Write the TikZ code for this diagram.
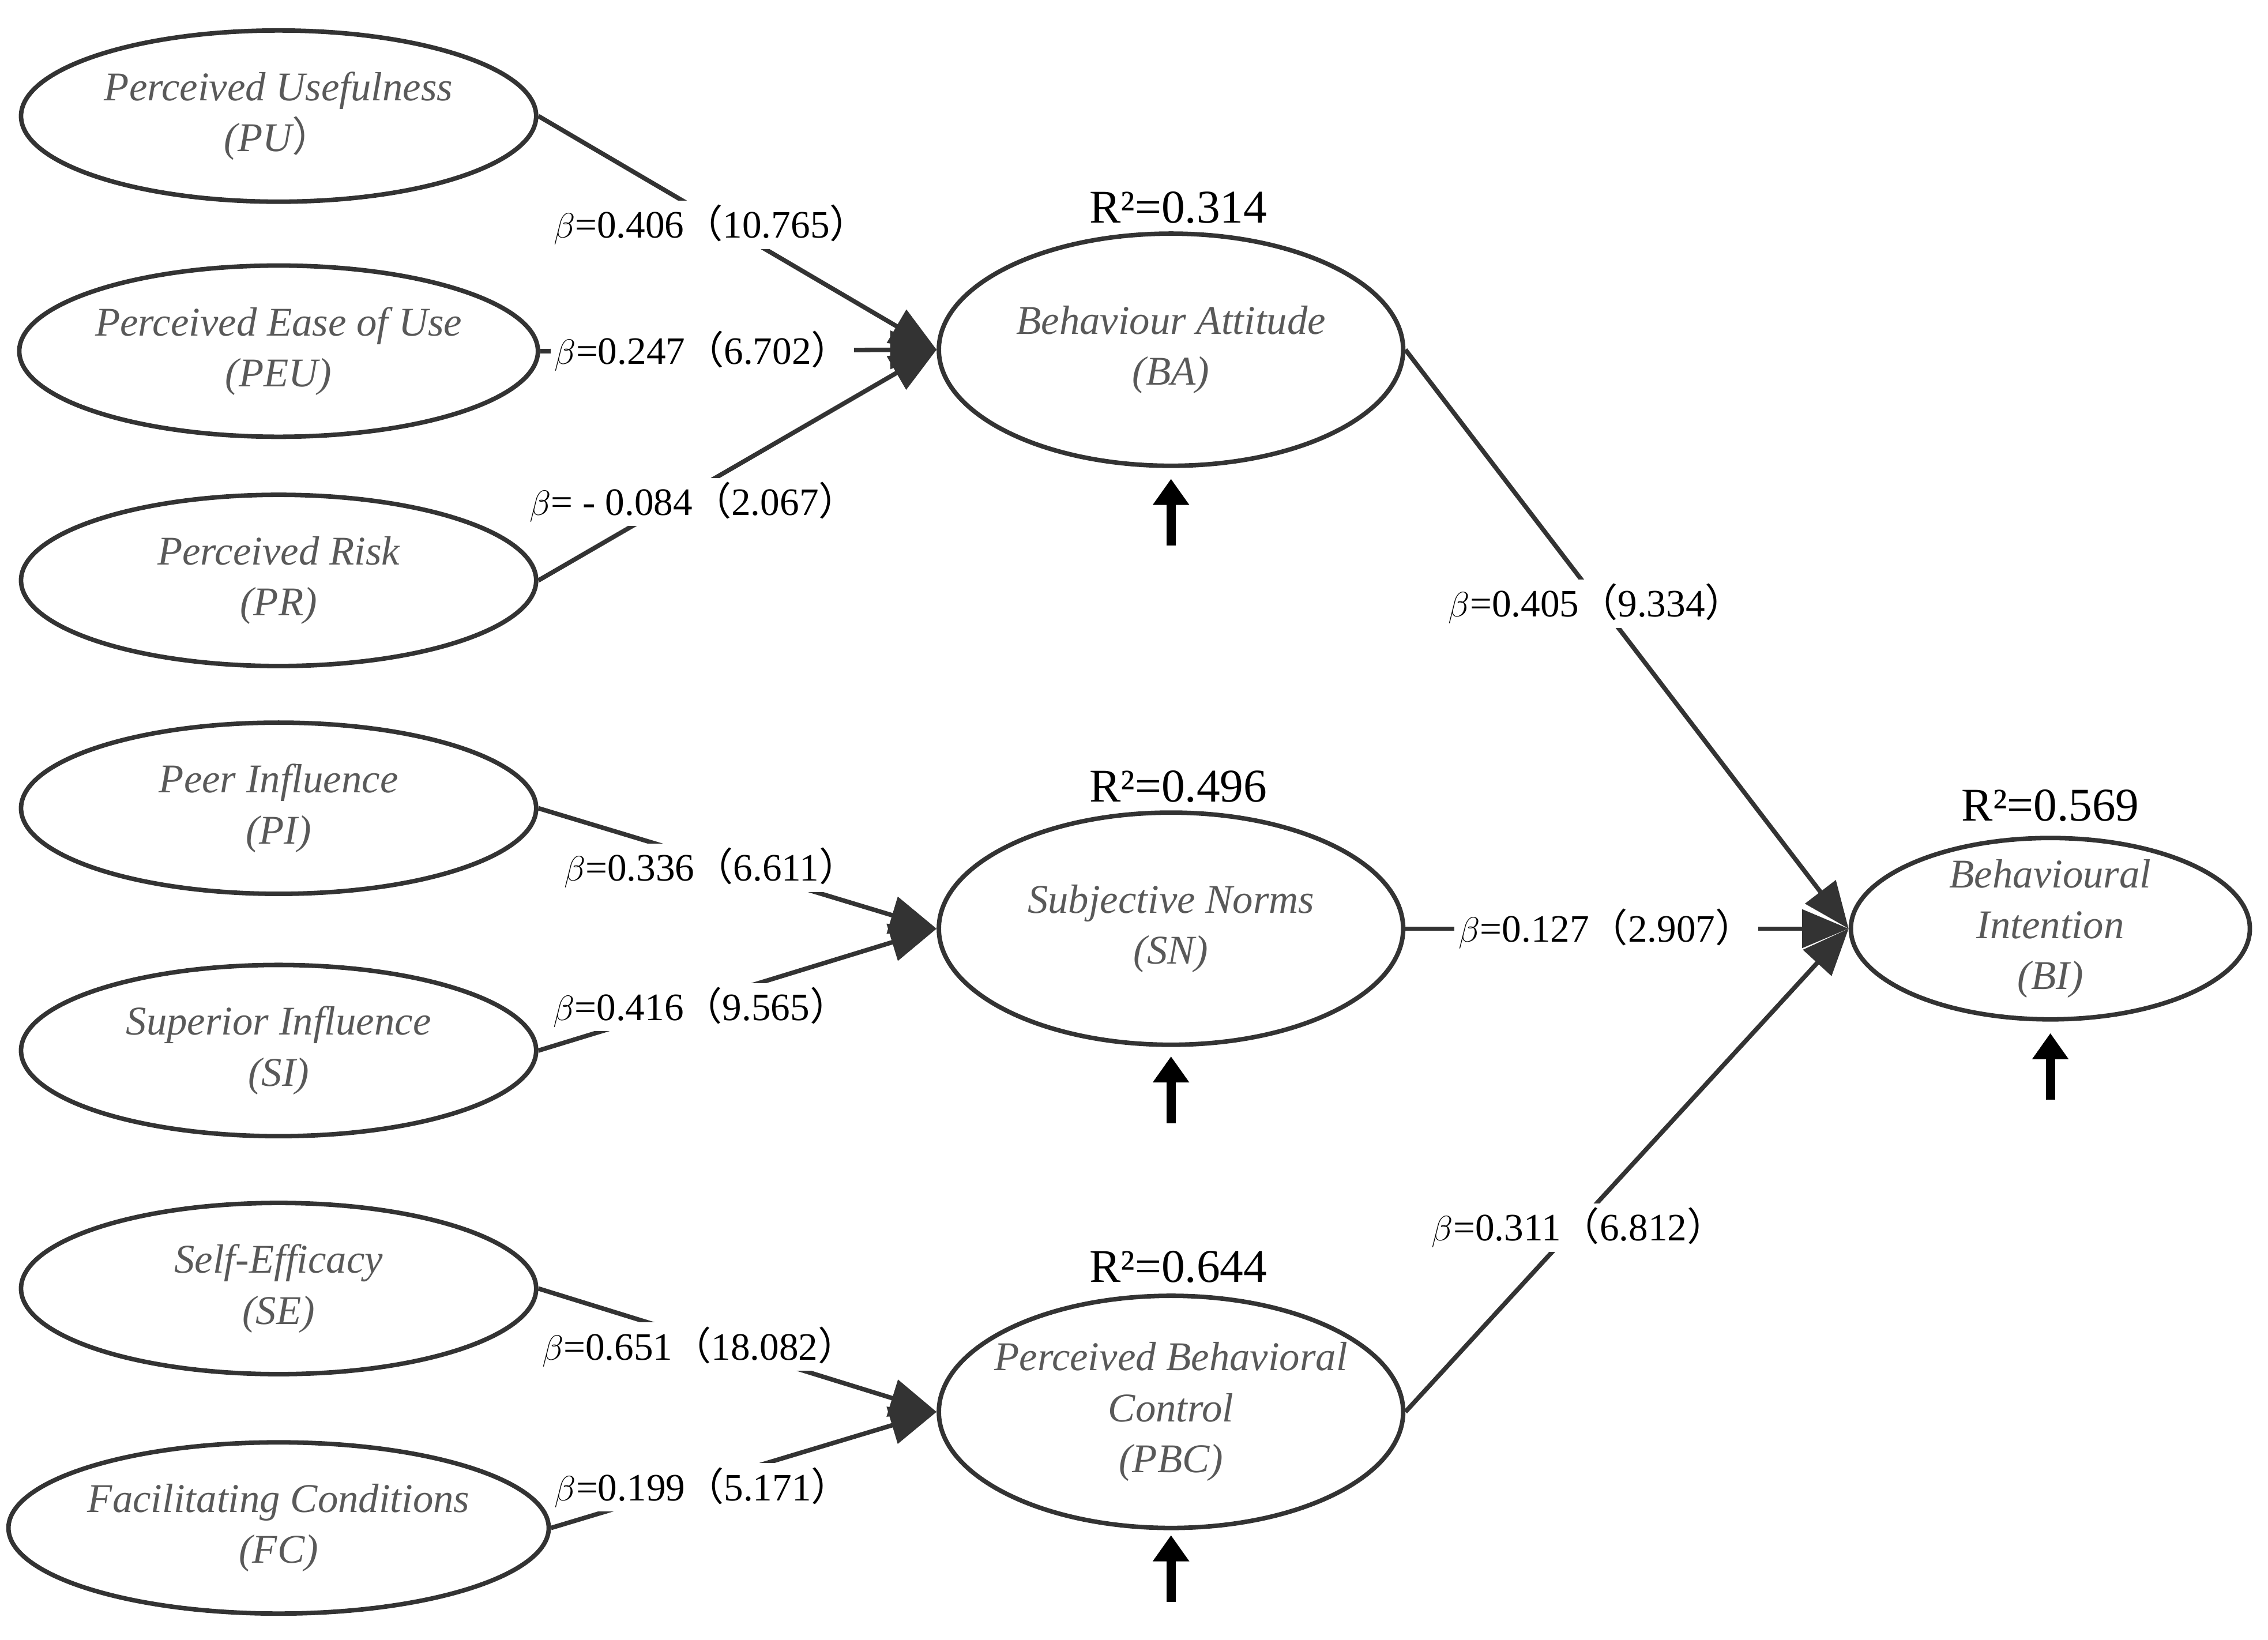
\documentclass[tikz,border=0pt]{standalone}
\usepackage{fontspec}
\setmainfont{Liberation Serif}
\newfontfamily\cjk{Noto Sans CJK SC}
\newcommand{\lp}{{\cjk （}}
\newcommand{\rp}{{\cjk ）}}
\usetikzlibrary{arrows.meta,shapes.geometric}
\begin{document}
\begin{tikzpicture}[x=0.025cm,y=-0.025cm,
 src/.style={ellipse,draw=black!80,line width=2.2pt,minimum width=355*0.025cm,minimum height=118*0.025cm,inner sep=0pt,align=center,font=\fontsize{20}{25}\selectfont\itshape,text=black!65},
 mid/.style={src,minimum width=320*0.025cm,minimum height=160*0.025cm},
 lab/.style={fill=white,inner sep=2pt,font=\fontsize{19}{22}\selectfont},
 rsq/.style={font=\fontsize{23}{26}\selectfont},
 ln/.style={draw=black!80,line width=2.2pt,-{Triangle[length=0.8cm,width=0.65cm]}},
 up/.style={line width=4.5pt,-{Triangle[length=0.45cm,width=0.6cm]}}]
\useasboundingbox (0,0) rectangle (1563,1130);
\node[src] (PU) at (192,80) {Perceived Usefulness\\(PU\rp};
\node[src] (PEU) at (192,242) {Perceived Ease of Use\\(PEU)};
\node[src] (PR) at (192,400) {Perceived Risk\\(PR)};
\node[src] (PI) at (192,557) {Peer Influence\\(PI)};
\node[src] (SI) at (192,724) {Superior Influence\\(SI)};
\node[src] (SE) at (192,888) {Self-Efficacy\\(SE)};
\node[src] (FC) at (192,1053) {Facilitating Conditions\\(FC)};
\node[mid] (BA) at (807,241) {Behaviour Attitude\\(BA)};
\node[mid] (SN) at (807,640) {Subjective Norms\\(SN)};
\node[mid,inner xsep=-12pt,inner ysep=-6pt] (PBC) at (807,973) {Perceived Behavioral\\Control\\(PBC)};
\node[mid,minimum width=275*0.025cm,minimum height=125*0.025cm,inner xsep=-6pt,inner ysep=-6pt] (BI) at (1413,640) {Behavioural\\Intention\\(BI)};
\draw[ln] (PU.east) -- (BA.west);
\draw[ln] (PEU.east) -- (BA.west);
\draw[ln] (PR.east) -- (BA.west);
\draw[ln] (PI.east) -- (SN.west);
\draw[ln] (SI.east) -- (SN.west);
\draw[ln] (SE.east) -- (PBC.west);
\draw[ln] (FC.east) -- (PBC.west);
\draw[ln] (BA.east) -- (BI.west);
\draw[ln] (SN.east) -- (BI.west);
\draw[ln] (PBC.east) -- (BI.west);
\node[lab] (l1) at (490,155) {$\beta$=0.406\lp10.765\rp};
\node[lab] (l2) at (484,242) {$\beta$=0.247\lp6.702\rp};
\node[lab] (l3) at (478,346) {$\beta$= - 0.084\lp2.067\rp};
\node[lab] (l4) at (1100,416) {$\beta$=0.405\lp9.334\rp};
\node[lab] (l5) at (490,598) {$\beta$=0.336\lp6.611\rp};
\node[lab] (l6) at (483,694) {$\beta$=0.416\lp9.565\rp};
\node[lab] (l7) at (1107,640) {$\beta$=0.127\lp2.907\rp};
\node[lab] (l8) at (482,928) {$\beta$=0.651\lp18.082\rp};
\node[lab] (l9) at (484,1025) {$\beta$=0.199\lp5.171\rp};
\node[lab] (l10) at (1088,846) {$\beta$=0.311\lp6.812\rp};
\node[rsq] (r1) at (812,143) {R²=0.314};
\node[rsq] (r2) at (812,542) {R²=0.496};
\node[rsq] (r3) at (812,873) {R²=0.644};
\node[rsq] (r4) at (1413,555) {R²=0.569};
\coordinate (a1) at (807,376); \coordinate (b1) at (807,330);
\coordinate (a2) at (807,774); \coordinate (b2) at (807,728);
\coordinate (a3) at (807,1104); \coordinate (b3) at (807,1058);
\coordinate (a4) at (1413,758); \coordinate (b4) at (1413,712);
\draw[up] (a1) -- (b1);
\draw[up] (a2) -- (b2);
\draw[up] (a3) -- (b3);
\draw[up] (a4) -- (b4);
\end{tikzpicture}
\end{document}
